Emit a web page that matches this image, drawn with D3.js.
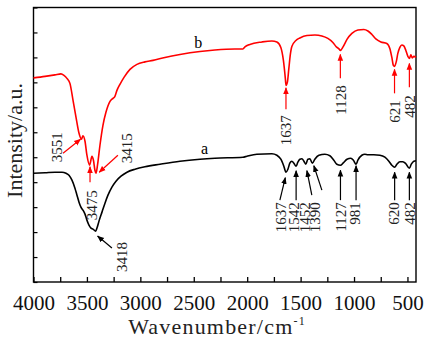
<!DOCTYPE html>
<html lang="en">
<head>
    <meta charset="utf-8">
    <script type="text/javascript" src="https://d3js.org/d3.v7.min.js"></script>
    <title>FTIR spectra</title>
    <style>
        html, body {
            margin: 0;
            padding: 0;
            background: white;
        }
        text {
            font-family: "Liberation Serif", "Times New Roman", serif;
        }
    </style>
</head>
<body>
    <div id="chart"></div>

    <script type="text/javascript">

        // Spectrum b (red)
        const bWave = [4000, 3892, 3799, 3743, 3715, 3687, 3659, 3630, 3602, 3574, 3551, 3537, 3518, 3500, 3475,
            3467, 3453, 3439, 3425, 3415, 3401, 3378, 3350, 3322, 3284, 3256, 3238, 3219, 3191, 3153, 3097, 3032,
            2957, 2882, 2770, 2629, 2442, 2302, 2115, 2040, 2021, 1975, 1862, 1769, 1722, 1685, 1661, 1643, 1637,
            1624, 1610, 1596, 1582, 1544, 1507, 1441, 1366, 1301, 1245, 1198, 1169, 1141, 1128, 1103, 1066, 1020,
            964, 908, 870, 833, 796, 749, 693, 665, 646, 632, 621, 604, 590, 571, 553, 534, 515, 496, 482, 468,
            454, 440, 420];
        const bVal = [8.18, 8.24, 8.30, 8.34, 8.28, 8.16, 7.96, 7.28, 6.60, 5.96, 5.72, 5.86, 5.64, 5.08, 4.68,
            4.80, 5.04, 4.88, 4.48, 4.36, 4.68, 5.48, 6.28, 6.80, 7.24, 7.36, 7.44, 7.68, 7.92, 8.20, 8.52, 8.72,
            8.82, 8.88, 9.00, 9.12, 9.24, 9.30, 9.34, 9.34, 9.42, 9.52, 9.62, 9.66, 9.62, 9.40, 8.88, 8.16, 7.88,
            8.00, 8.56, 9.12, 9.44, 9.68, 9.78, 9.88, 9.90, 9.86, 9.76, 9.60, 9.44, 9.34, 9.28, 9.42, 9.72, 9.96,
            10.10, 10.12, 10.06, 9.92, 9.74, 9.62, 9.56, 9.36, 9.00, 8.68, 8.64, 8.84, 9.16, 9.40, 9.50, 9.46,
            9.28, 9.04, 8.96, 9.10, 8.98, 9.04, 9.00];

        // Spectrum a (black)
        const aWave = [4000, 3892, 3799, 3733, 3696, 3668, 3640, 3612, 3593, 3574, 3556, 3537, 3518, 3500, 3481,
            3462, 3443, 3418, 3406, 3387, 3359, 3331, 3303, 3266, 3228, 3181, 3125, 3050, 2957, 2816, 2629, 2442,
            2302, 2040, 2003, 1909, 1769, 1722, 1685, 1657, 1637, 1619, 1601, 1582, 1563, 1542, 1526, 1507, 1488,
            1469, 1452, 1432, 1413, 1390, 1367, 1329, 1273, 1226, 1189, 1161, 1127, 1103, 1066, 1030, 1006, 981,
            964, 927, 899, 870, 815, 758, 711, 674, 646, 620, 599, 571, 543, 515, 482, 464, 440, 420];
        const aVal = [4.36, 4.38, 4.40, 4.40, 4.36, 4.28, 4.08, 3.76, 3.48, 3.20, 3.00, 2.88, 2.72, 2.48, 2.28,
            2.16, 2.12, 2.04, 2.16, 2.44, 2.80, 3.16, 3.48, 3.80, 4.04, 4.24, 4.40, 4.52, 4.62, 4.72, 4.84, 4.92,
            4.96, 5.00, 5.04, 5.12, 5.14, 5.08, 4.92, 4.64, 4.40, 4.52, 4.76, 4.84, 4.76, 4.64, 4.80, 4.92, 4.94,
            4.84, 4.72, 4.92, 4.94, 4.76, 4.92, 5.08, 5.12, 5.06, 4.88, 4.72, 4.68, 4.76, 4.92, 4.96, 4.88, 4.72,
            4.88, 5.08, 5.12, 5.10, 5.10, 5.08, 5.00, 4.84, 4.68, 4.60, 4.72, 4.82, 4.82, 4.74, 4.56, 4.72, 4.84, 4.86];

        // Axis ticks
        const xTicks = [4000, 3750, 3500, 3250, 3000, 2750, 2500, 2250, 2000, 1750, 1500, 1250, 1000, 750, 500];
        const xLabels = ["4000", "3500", "3000", "2500", "2000", "1500", "1000", "500"];
        const yTicks = [0, 1, 2, 3, 4, 5, 6, 7, 8, 9, 10, 11];

        // Peak annotations: [label, label wave, label top value, arrow tail wave, tail value, head wave, head value]
        const bPeaks = [
            ["3551", 3780, 6.00, 3724, 5.16, 3560, 5.72],
            ["3475", 3453, 3.68, 3471, 4.00, 3471, 4.62],
            ["3415", 3125, 5.96, 3210, 5.08, 3385, 4.40],
            ["1637", 1637, 6.68, 1637, 6.92, 1637, 7.78],
            ["1128", 1128, 7.88, 1128, 8.16, 1128, 9.12],
            ["621", 621, 7.28, 621, 7.56, 621, 8.52],
            ["482", 482, 7.48, 482, 7.80, 482, 8.76]
        ];
        const aPeaks = [
            ["3418", 3177, 1.60, 3266, 1.36, 3400, 1.84],
            ["1637", 1685, 3.20, 1694, 3.28, 1643, 4.18],
            ["1542", 1568, 3.20, 1542, 3.28, 1542, 4.46],
            ["1452", 1465, 3.20, 1395, 3.48, 1441, 4.46],
            ["1390", 1371, 3.20, 1301, 3.68, 1376, 4.66],
            ["1127", 1127, 3.20, 1127, 3.28, 1127, 4.48],
            ["981", 997, 3.20, 981, 3.28, 981, 4.66],
            ["620", 630, 3.20, 620, 3.28, 620, 4.40],
            ["482", 482, 3.20, 482, 3.28, 482, 4.40]
        ];

        const W = 424, H = 349;
        const margin = {top: 7.5, right: 8, bottom: 67, left: 33.5};
        const width = W - margin.left - margin.right,
              height = H - margin.top - margin.bottom;

        const svg = d3.select("#chart")
            .append("svg")
                .attr("width", W)
                .attr("height", H);

        // Arrow heads
        const defs = svg.append("defs");
        [["head-red", "#ff0000"], ["head-black", "#000"]].forEach(([id, c]) => {
            defs.append("marker")
                .attr("id", id)
                .attr("viewBox", "0 0 10 10")
                .attr("refX", 9).attr("refY", 5)
                .attr("markerWidth", 7).attr("markerHeight", 7)
                .attr("markerUnits", "userSpaceOnUse")
                .attr("orient", "auto")
              .append("path")
                .attr("d", "M0,1 L10,5 L0,9 Z")
                .attr("fill", c);
        });

        const g = svg.append("g")
            .attr("transform", `translate(${margin.left},${margin.top})`);

        const x = d3.scaleLinear().domain([4000, 420]).range([0, width]);
        const y = d3.scaleLinear().domain([0, 11]).range([height, 0]);

        // Bottom axis with inward ticks
        const xAxis = g.append("g")
            .attr("transform", `translate(0,${height})`)
            .call(d3.axisBottom(x)
                .tickValues(xTicks)
                .tickSize(-5)
                .tickPadding(13)
                .tickFormat(d => xLabels.includes(String(d)) ? d : ""));
        xAxis.select(".domain").remove();
        xAxis.selectAll("line").attr("stroke-width", 1.3);
        xAxis.selectAll("text")
            .attr("font-family", "Liberation Serif, serif")
            .attr("font-size", 21)
            .attr("fill", "#111");

        // Left axis ticks
        const yAxis = g.append("g")
            .call(d3.axisLeft(y).tickValues(yTicks).tickSize(-4).tickFormat(""));
        yAxis.select(".domain").remove();
        yAxis.selectAll("line").attr("stroke-width", 1.2);

        // Frame
        g.append("rect")
            .attr("width", width)
            .attr("height", height)
            .attr("fill", "none")
            .attr("stroke", "#000")
            .attr("stroke-width", 1.4);

        const line = d3.line()
            .x(d => x(d[0]))
            .y(d => y(d[1]))
            .curve(d3.curveMonotoneX);

        g.append("path")
            .datum(d3.zip(aWave, aVal))
            .attr("d", line)
            .attr("fill", "none")
            .attr("stroke", "#000")
            .attr("stroke-width", 1.6);

        g.append("path")
            .datum(d3.zip(bWave, bVal))
            .attr("d", line)
            .attr("fill", "none")
            .attr("stroke", "#ff0000")
            .attr("stroke-width", 1.6);

        // Peak arrows and labels
        function drawPeaks(peaks, color, marker) {
            const pg = g.append("g");
            pg.selectAll("line")
                .data(peaks)
                .join("line")
                    .attr("x1", d => x(d[3]))
                    .attr("y1", d => y(d[4]))
                    .attr("x2", d => x(d[5]))
                    .attr("y2", d => y(d[6]))
                    .attr("stroke", color)
                    .attr("stroke-width", 1.2)
                    .attr("marker-end", `url(#${marker})`);
            pg.selectAll("text")
                .data(peaks)
                .join("text")
                    .attr("transform", d => `translate(${x(d[1])},${y(d[2])}) rotate(-90)`)
                    .attr("text-anchor", "end")
                    .attr("dy", "0.35em")
                    .attr("font-size", 15)
                    .attr("fill", "#222")
                    .text(d => d[0]);
        }
        drawPeaks(bPeaks, "#ff0000", "head-red");
        drawPeaks(aPeaks, "#000", "head-black");

        // Curve names
        g.append("text")
            .attr("x", x(2457)).attr("y", y(9.36))
            .attr("text-anchor", "middle")
            .attr("font-size", 16)
            .text("b");
        g.append("text")
            .attr("x", x(2400)).attr("y", y(5.12))
            .attr("text-anchor", "middle")
            .attr("font-size", 16)
            .text("a");

        // Axis titles
        svg.append("text")
            .attr("transform", `translate(${margin.left - 12},${margin.top + 133}) rotate(-90)`)
            .attr("text-anchor", "middle")
            .attr("font-size", 22)
            .attr("fill", "#222")
            .text("Intensity/a.u.");

        const xt = svg.append("text")
            .attr("x", 217)
            .attr("y", 334)
            .attr("text-anchor", "middle")
            .attr("font-size", 22)
            .attr("letter-spacing", 1.2)
            .attr("fill", "#222");
        xt.append("tspan").text("Wavenumber/cm");
        xt.append("tspan").attr("dy", -9).attr("font-size", 12).text("-1");

    </script>
</body>
</html>
